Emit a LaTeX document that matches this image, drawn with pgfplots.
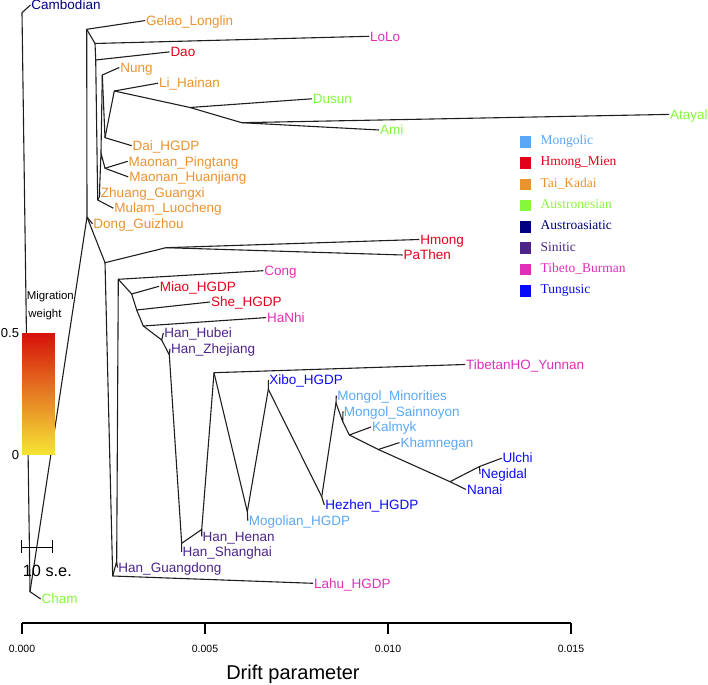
\documentclass[border=0pt]{standalone}
\usepackage{pgfplots}
\pgfplotsset{compat=1.18}
\usepackage{fontspec}
\setmainfont{Liberation Sans}
\newfontfamily\seriffont{Liberation Serif}
\definecolor{mongolic}{RGB}{90,168,245}
\definecolor{hmong}{RGB}{226,0,26}
\definecolor{taikadai}{RGB}{234,146,46}
\definecolor{austronesian}{RGB}{134,248,60}
\definecolor{austroasiatic}{RGB}{0,0,128}
\definecolor{sinitic}{RGB}{76,36,136}
\definecolor{tibeto}{RGB}{224,46,184}
\definecolor{tungusic}{RGB}{10,10,250}
\definecolor{treecol}{RGB}{30,30,30}
\pgfplotsset{/pgf/number format/assume math mode=true,
  treeline/.style={no markers, forget plot, line width=1.1pt, color=treecol, line join=round}}
\newcommand\lab[3]{\node[anchor=base west, inner sep=0pt, xshift=0.8pt, yshift=-4.8pt, text=#3, font=\fontsize{13.5}{14}\selectfont] at (axis cs:#1) {#2};}
\begin{document}
\begin{tikzpicture}
\begin{axis}[
  name=main,
  width=708pt, height=684pt, scale only axis,
  xmin=-0.000601, xmax=0.018743, ymin=-61, ymax=623,
  axis x line=middle, axis y line=none,
  x axis line style={draw=none},
  hide obscured x ticks=false,
  scaled x ticks=false,
  xtick={0,0.005,0.01,0.015},
  xticklabels={0.000,0.005,0.010,0.015},
  tick align=outside, major tick length=11pt,
  xtick style={draw=black, line width=1.1pt},
  xticklabel style={font=\fontsize{10.5}{12}\selectfont, anchor=base, yshift=-18.3pt},
  xlabel={Drift parameter},
  x label style={at={(axis description cs:0.4138,0.0066)}, anchor=base, font=\fontsize{20}{22}\selectfont},
  clip=false,
  colorbar,
  colorbar/width=32.6pt,
  colormap={mig}{rgb255=(246,230,52) rgb255=(230,125,35) rgb255=(215,15,10)},
  point meta min=0, point meta max=0.5,
  colorbar style={
    at={(parent axis.south west)}, anchor=south west, xshift=13.7pt, yshift=229pt,
    width=32.6pt, height=122.3pt, scale only axis,
    axis line style={draw=none},
    ytick={0,0.5}, yticklabels={0,0.5},
    yticklabel pos=left, ytick pos=left,
    major tick length=0pt, ytick style={draw=none},
    yticklabel style={font=\fontsize{13}{14}\selectfont, inner sep=3pt},
  },
  legend style={draw=none, fill=none, at={(axis cs:0.013588,488)}, anchor=north west,
    font=\seriffont\fontsize{13.5}{14}\selectfont, row sep=8.8pt, inner sep=0pt,
    nodes={inner sep=0pt, text height=9.5pt, text depth=3pt},
    /tikz/every odd column/.append style={column sep=10pt}},
  legend cell align=left,
]
% ---------------- tree edges ----------------
\addplot[treeline] coordinates {(0.000232,618) (0,610.3) (0.000219,31.3) (0.000511,24)};
\addplot[treeline] coordinates {(0.000219,31.3) (0.001776,406) (0.001768,593.7) (0.003361,602.4)};
\addplot[treeline] coordinates {(0.001776,406) (0.001926,399.2)};
\addplot[treeline] coordinates {(0.001768,593.7) (0.001995,579.5) (0.009481,586.7)};
\addplot[treeline] coordinates {(0.001995,579.5) (0.002014,563) (0.004030,571.1)};
\addplot[treeline] coordinates {(0.002014,563) (0.002068,423) (0.002495,414.8)};
\addplot[treeline] coordinates {(0.002068,423) (0.002112,426) (0.002131,430.4)};
\addplot[treeline] coordinates {(0.002112,426) (0.002158,470) (0.002268,454.7) (0.002888,461.7)};
\addplot[treeline] coordinates {(0.002268,454.7) (0.002904,446.1)};
\addplot[treeline] coordinates {(0.002158,470) (0.002194,548) (0.002658,555.5)};
\addplot[treeline] coordinates {(0.002194,548) (0.002268,485.3) (0.002997,477.3)};
\addplot[treeline] coordinates {(0.002268,485.3) (0.002522,532) (0.003716,539.8)};
\addplot[treeline] coordinates {(0.002522,532) (0.004590,515.5) (0.007923,524.2)};
\addplot[treeline] coordinates {(0.004590,515.5) (0.006003,500.3) (0.017678,508.6)};
\addplot[treeline] coordinates {(0.006003,500.3) (0.009754,493)};
\addplot[treeline] coordinates {(0.001776,406) (0.002268,360.3) (0.003934,375.3) (0.010855,383.5)};
\addplot[treeline] coordinates {(0.003934,375.3) (0.010402,368)};
\addplot[treeline] coordinates {(0.002268,360.3) (0.002478,47) (0.007951,39.7)};
\addplot[treeline] coordinates {(0.002478,47) (0.002587,61.5) (0.002609,55.4)};
\addplot[treeline] coordinates {(0.002587,61.5) (0.002631,343.7) (0.006593,352.3)};
\addplot[treeline] coordinates {(0.002631,343.7) (0.002997,329) (0.003743,336.7)};
\addplot[treeline] coordinates {(0.002997,329) (0.003134,313) (0.005137,321)};
\addplot[treeline] coordinates {(0.003134,313) (0.003314,297) (0.006667,305.4)};
\addplot[treeline] coordinates {(0.003314,297) (0.003817,283) (0.003861,290)};
\addplot[treeline] coordinates {(0.003817,283) (0.004025,268) (0.004044,274.2)};
\addplot[treeline] coordinates {(0.004025,268) (0.004363,79.7) (0.004363,71)};
\addplot[treeline] coordinates {(0.004363,79.7) (0.004910,93.5) (0.004910,86.6)};
\addplot[treeline] coordinates {(0.004910,93.5) (0.005246,250.3) (0.012104,258.5)};
\addplot[treeline] coordinates {(0.005246,250.3) (0.006156,111.3) (0.006169,102.3)};
\addplot[treeline] coordinates {(0.006156,111.3) (0.006730,233.7) (0.006730,243)};
\addplot[treeline] coordinates {(0.006730,233.7) (0.008189,126.3) (0.008260,118)};
\addplot[treeline] coordinates {(0.008189,126.3) (0.008579,220) (0.008587,227.3)};
\addplot[treeline] coordinates {(0.008579,220) (0.008762,201.5) (0.008770,211.6)};
\addplot[treeline] coordinates {(0.008762,201.5) (0.008943,188) (0.009536,196)};
\addplot[treeline] coordinates {(0.008943,188) (0.009735,173.5) (0.010314,180.4)};
\addplot[treeline] coordinates {(0.009735,173.5) (0.011694,141.3) (0.012131,133.5)};
\addplot[treeline] coordinates {(0.011694,141.3) (0.012500,156.5) (0.013107,164.8)};
\addplot[treeline] coordinates {(0.012500,156.5) (0.012514,149.1)};
% axis line and scale bar
\addplot[treeline, color=black] coordinates {(0,0) (0.015,0)};
\addplot[treeline, color=black] coordinates {(-0.000008,75.7) (0.000828,75.7)};
\addplot[treeline, color=black] coordinates {(-0.000008,83) (-0.000008,69.5)};
\addplot[treeline, color=black] coordinates {(0.000828,83) (0.000828,69.5)};
% ---------------- legend ----------------
\addlegendimage{legend image code/.code={\fill[mongolic] (0pt,-5.3pt) rectangle (10.7pt,5.3pt);}}
\addlegendentry[text=mongolic]{Mongolic}
\addlegendimage{legend image code/.code={\fill[hmong] (0pt,-5.3pt) rectangle (10.7pt,5.3pt);}}
\addlegendentry[text=hmong]{Hmong\_Mien}
\addlegendimage{legend image code/.code={\fill[taikadai] (0pt,-5.3pt) rectangle (10.7pt,5.3pt);}}
\addlegendentry[text=taikadai]{Tai\_Kadai}
\addlegendimage{legend image code/.code={\fill[austronesian] (0pt,-5.3pt) rectangle (10.7pt,5.3pt);}}
\addlegendentry[text=austronesian]{Austronesian}
\addlegendimage{legend image code/.code={\fill[austroasiatic] (0pt,-5.3pt) rectangle (10.7pt,5.3pt);}}
\addlegendentry[text=austroasiatic]{Austroasiatic}
\addlegendimage{legend image code/.code={\fill[sinitic] (0pt,-5.3pt) rectangle (10.7pt,5.3pt);}}
\addlegendentry[text=sinitic]{Sinitic}
\addlegendimage{legend image code/.code={\fill[tibeto] (0pt,-5.3pt) rectangle (10.7pt,5.3pt);}}
\addlegendentry[text=tibeto]{Tibeto\_Burman}
\addlegendimage{legend image code/.code={\fill[tungusic] (0pt,-5.3pt) rectangle (10.7pt,5.3pt);}}
\addlegendentry[text=tungusic]{Tungusic}
% ---------------- leaf labels ----------------
\lab{0.000232,618}{Cambodian}{austroasiatic}
\lab{0.003361,602.4}{Gelao\_Longlin}{taikadai}
\lab{0.009481,586.7}{LoLo}{tibeto}
\lab{0.004030,571.1}{Dao}{hmong}
\lab{0.002658,555.5}{Nung}{taikadai}
\lab{0.003716,539.8}{Li\_Hainan}{taikadai}
\lab{0.007923,524.2}{Dusun}{austronesian}
\lab{0.017678,508.6}{Atayal}{austronesian}
\lab{0.009754,493}{Ami}{austronesian}
\lab{0.002997,477.3}{Dai\_HGDP}{taikadai}
\lab{0.002888,461.7}{Maonan\_Pingtang}{taikadai}
\lab{0.002904,446.1}{Maonan\_Huanjiang}{taikadai}
\lab{0.002131,430.4}{Zhuang\_Guangxi}{taikadai}
\lab{0.002495,414.8}{Mulam\_Luocheng}{taikadai}
\lab{0.001926,399.2}{Dong\_Guizhou}{taikadai}
\lab{0.010855,383.5}{Hmong}{hmong}
\lab{0.010402,368}{PaThen}{hmong}
\lab{0.006593,352.3}{Cong}{tibeto}
\lab{0.003743,336.7}{Miao\_HGDP}{hmong}
\lab{0.005137,321}{She\_HGDP}{hmong}
\lab{0.006667,305.4}{HaNhi}{tibeto}
\lab{0.003861,290}{Han\_Hubei}{sinitic}
\lab{0.004044,274.2}{Han\_Zhejiang}{sinitic}
\lab{0.012104,258.5}{TibetanHO\_Yunnan}{tibeto}
\lab{0.006730,243}{Xibo\_HGDP}{tungusic}
\lab{0.008587,227.3}{Mongol\_Minorities}{mongolic}
\lab{0.008770,211.6}{Mongol\_Sainnoyon}{mongolic}
\lab{0.009536,196}{Kalmyk}{mongolic}
\lab{0.010314,180.4}{Khamnegan}{mongolic}
\lab{0.013107,164.8}{Ulchi}{tungusic}
\lab{0.012514,149.1}{Negidal}{tungusic}
\lab{0.012131,133.5}{Nanai}{tungusic}
\lab{0.008260,118}{Hezhen\_HGDP}{tungusic}
\lab{0.006169,102.3}{Mogolian\_HGDP}{mongolic}
\lab{0.004910,86.6}{Han\_Henan}{sinitic}
\lab{0.004363,71}{Han\_Shanghai}{sinitic}
\lab{0.002609,55.4}{Han\_Guangdong}{sinitic}
\lab{0.007951,39.7}{Lahu\_HGDP}{tibeto}
\lab{0.000511,24}{Cham}{austronesian}
% ---------------- other texts ----------------
\node[anchor=base west, inner sep=0pt, font=\fontsize{11.4}{12}\selectfont] at (axis cs:0.000128,323.3) {Migration};
\node[anchor=base west, inner sep=0pt, font=\fontsize{11.4}{12}\selectfont] at (axis cs:0.000172,305.5) {weight};
\node[anchor=base west, inner sep=0pt, font=\fontsize{16.3}{18}\selectfont] at (axis cs:0.000019,46.2) {10 s.e.};
\end{axis}
\pgfresetboundingbox
\useasboundingbox (main.south west) rectangle (main.north east);
\end{tikzpicture}
\end{document}
